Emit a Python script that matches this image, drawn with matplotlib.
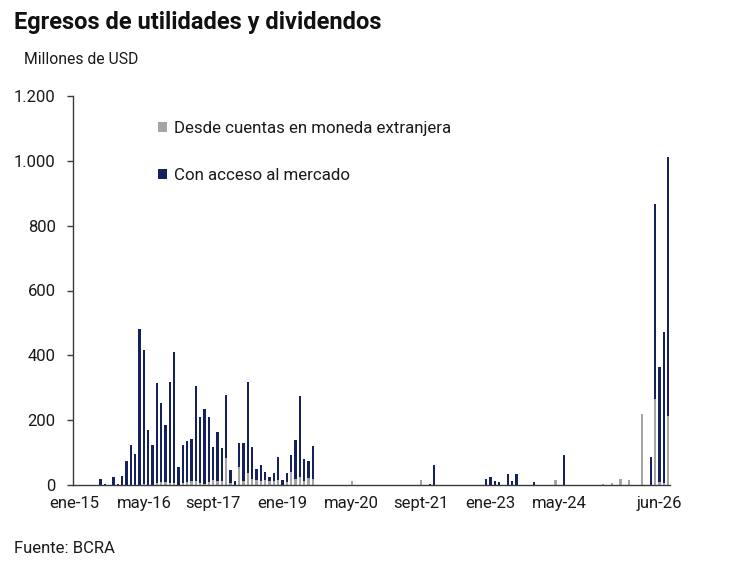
import matplotlib
matplotlib.use("Agg")
import matplotlib.pyplot as plt
import matplotlib.transforms as mtransforms
from matplotlib.patches import Patch
from matplotlib.ticker import FuncFormatter, MultipleLocator
import numpy as np

plt.rcParams['font.family'] = ['Roboto', 'DejaVu Sans']

# Monthly data, ene-15 .. jun-26 (138 months), millones de USD
con_acceso = [
    # 2015
    0, 0, 0, 0, 0, 0, 18, 4, 0, 25, 4, 29,
    # 2016
    74, 123, 97, 481, 414, 169, 123, 310, 245, 175, 314, 405,
    # 2017
    56, 118, 128, 131, 293, 205, 231, 202, 102, 150, 102, 195,
    # 2018
    41, 12, 76, 118, 283, 100, 34, 50, 24, 14, 24, 72,
    # 2019
    15, 26, 55, 121, 249, 69, 53, 102, 0, 0, 0, 0,
    # 2020
    0, 0, 0, 0, 0, 0, 0, 0, 0, 0, 0, 0,
    # 2021
    0, 0, 0, 0, 0, 0, 0, 0, 0, 0, 3, 61,
    # 2022
    0, 0, 0, 0, 0, 0, 0, 0, 0, 0, 0, 19,
    # 2023
    26, 12, 9, 0, 33, 12, 33, 0, 0, 0, 9, 0,
    # 2024
    0, 0, 0, 0, 0, 94, 0, 0, 0, 0, 0, 0,
    # 2025
    0, 0, 0, 0, 0, 0, 0, 0, 0, 0, 0, 0,
    # 2026
    0, 85, 603, 354, 467, 799,
]
desde_cuentas = [
    # 2015
    0, 0, 0, 0, 0, 0, 0, 0, 0, 0, 0, 0,
    # 2016
    0, 0, 0, 0, 3, 0, 0, 6, 8, 10, 5, 5,
    # 2017
    0, 5, 8, 12, 12, 5, 3, 8, 15, 12, 12, 84,
    # 2018
    5, 0, 54, 12, 36, 18, 15, 12, 15, 12, 12, 15,
    # 2019
    0, 10, 39, 18, 26, 12, 22, 18, 0, 0, 0, 0,
    # 2020
    0, 0, 0, 0, 12, 0, 0, 0, 0, 0, 0, 0,
    # 2021
    0, 0, 0, 0, 0, 0, 0, 0, 14, 0, 0, 0,
    # 2022
    0, 0, 0, 0, 0, 0, 0, 0, 0, 0, 0, 0,
    # 2023
    0, 0, 0, 0, 0, 0, 0, 0, 0, 0, 0, 0,
    # 2024
    0, 0, 0, 14, 0, 0, 0, 0, 0, 0, 0, 0,
    # 2025
    0, 0, 3, 0, 6, 0, 19, 0, 15, 0, 0, 220,
    # 2026
    0, 0, 264, 10, 5, 214,
]
tick_pos = [0, 16, 32, 48, 64, 80, 96, 112, 137]
tick_labels = ["ene-15", "may-16", "sept-17", "ene-19", "may-20",
               "sept-21", "ene-23", "may-24", "jun-26"]

GRAY = "#a5a5a5"
NAVY = "#14215e"
TXT = "#1a1a1a"

fig = plt.figure(figsize=(7.30, 5.78), dpi=100)
ax = fig.add_axes([72.5/730, 1-485/578, (670.2-72.5)/730, (485-96)/578])

x = np.arange(len(con_acceso))
g = np.array(desde_cuentas)
n = np.array(con_acceso)
ax.bar(x, g, width=0.55, color=GRAY, linewidth=0)
ax.bar(x, n, bottom=g, width=0.55, color=NAVY, linewidth=0)

ax.set_xlim(-0.5, len(con_acceso) - 0.5)
ax.set_ylim(0, 1200)
ax.yaxis.set_major_locator(MultipleLocator(200))
ax.yaxis.set_major_formatter(FuncFormatter(lambda v, p: f"{int(v):,}".replace(",", ".")))

for s in ["top", "right"]:
    ax.spines[s].set_visible(False)
for s in ["left", "bottom"]:
    ax.spines[s].set_color("#3a3a3a")
    ax.spines[s].set_linewidth(1.0)

ax.set_xticks(tick_pos)
ax.set_xticklabels(tick_labels)
ax.tick_params(axis="x", length=0, pad=8, labelsize=12, labelcolor=TXT)
ax.tick_params(axis="y", length=4, width=1.0, color="#3a3a3a", pad=8,
               labelsize=12, labelcolor=TXT, direction="out")

# last label shifted to stay inside chart area
lbl = ax.get_xticklabels()[-1]
lbl.set_transform(lbl.get_transform() + mtransforms.ScaledTranslation(-9/100, 0, fig.dpi_scale_trans))

handles = [Patch(facecolor=GRAY, edgecolor="none", label="Desde cuentas en moneda extranjera"),
           Patch(facecolor=NAVY, edgecolor="none", label="Con acceso al mercado")]
leg = ax.legend(handles=handles, loc="upper left", bbox_to_anchor=(158/730, 1-121/578),
                bbox_transform=fig.transFigure, frameon=False, fontsize=12.2,
                handlelength=0.55, handleheight=0.55, handletextpad=0.4,
                labelspacing=1.9, borderpad=0, borderaxespad=0)
for t in leg.get_texts():
    t.set_color(TXT)

fig.text(14/730, 1-29.3/578, "Egresos de utilidades y dividendos", fontsize=17,
         fontweight="bold", color="#111111", va="baseline", ha="left")
fig.text(24/730, 1-64/578, "Millones de USD", fontsize=11.3, color=TXT,
         va="baseline", ha="left")
fig.text(14/730, 1-552.7/578, "Fuente: BCRA", fontsize=12, color=TXT,
         va="baseline", ha="left")

fig.savefig("out.png", dpi=100)
